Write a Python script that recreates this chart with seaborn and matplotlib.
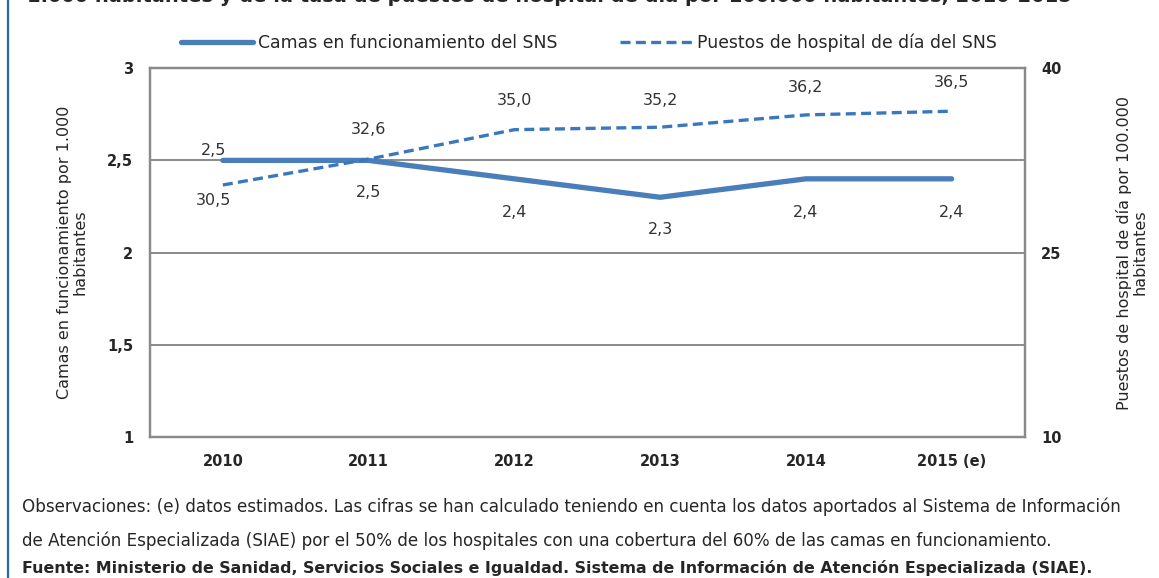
import numpy as np
import pandas as pd
import seaborn as sns
import matplotlib.pyplot as plt
from matplotlib.lines import Line2D

years = ["2010", "2011", "2012", "2013", "2014", "2015 (e)"]
camas = [2.5, 2.5, 2.4, 2.3, 2.4, 2.4]
puestos = [30.5, 32.6, 35.0, 35.2, 36.2, 36.5]

camas_labels = ["2,5", "2,5", "2,4", "2,3", "2,4", "2,4"]
puestos_labels = ["30,5", "32,6", "35,0", "35,2", "36,2", "36,5"]

sns.set_theme(style="white")
plt.rcParams["font.family"] = ["DejaVu Sans"]

blue = "#4a7ebb"
blue2 = "#3a78bd"
grid_c = "#8a8a8a"

df = pd.DataFrame({"pos": np.arange(len(years)), "camas": camas, "puestos": puestos})

fig = plt.figure(figsize=(11.59, 5.78), dpi=100)
ax = fig.add_axes([0.1294, 0.244, 0.7546, 0.638])
ax2 = ax.twinx()

sns.lineplot(data=df, x="pos", y="camas", ax=ax, color=blue, linewidth=3.8,
             solid_capstyle="round")
sns.lineplot(data=df, x="pos", y="puestos", ax=ax2, color=blue2, linewidth=2.4,
             linestyle=(0, (3, 1.6)))

ax.set_xlim(-0.5, len(years) - 0.5)
ax.set_ylim(1, 3)
ax.set_yticks([1, 1.5, 2, 2.5, 3])
ax.set_yticklabels(["1", "1,5", "2", "2,5", "3"])
ax2.set_ylim(10, 40)
ax2.set_yticks([10, 25, 40])
ax2.set_yticklabels(["10", "25", "40"])
ax.set_xticks(range(len(years)))
ax.set_xticklabels(years)

for a in (ax, ax2):
    a.tick_params(length=0, labelsize=10.5, pad=12)
    for lab in a.get_yticklabels() + a.get_xticklabels():
        lab.set_fontweight("bold")
    for s in a.spines.values():
        s.set_color(grid_c)
        s.set_linewidth(1.6)

for g in [1.5, 2, 2.5]:
    ax.axhline(g, color=grid_c, linewidth=1.4, zorder=0)

ax.set_xlabel("")
ax.set_ylabel("Camas en funcionamiento por 1.000\nhabitantes", fontsize=11.5, labelpad=14,
              linespacing=1.05)
ax2.set_ylabel("Puestos de hospital de día por 100.000\nhabitantes", fontsize=11.5,
               labelpad=39, linespacing=1.05, rotation=90)

# data labels
camas_off = [7, -23, -24, -23, -24, -24]
for i, (v, t) in enumerate(zip(camas, camas_labels)):
    ax.annotate(t, (i, v), xytext=(-7 if i == 0 else 0, camas_off[i]), textcoords="offset points",
                ha="center", va="center", fontsize=11.5, color="#333333")
puestos_off = [-11, 21, 21, 19.5, 20, 21]
for i, (v, t) in enumerate(zip(puestos, puestos_labels)):
    ax2.annotate(t, (i, v), xytext=(-7 if i == 0 else 0, puestos_off[i]), textcoords="offset points",
                 ha="center", va="center", fontsize=11.5, color="#333333")

handles = [Line2D([], [], color=blue, linewidth=3.8),
           Line2D([], [], color=blue2, linewidth=2.4, linestyle=(0, (3, 1.6)))]
fig.legend(handles, ["Camas en funcionamiento del SNS", "Puestos de hospital de día del SNS"],
           loc="center", bbox_to_anchor=(0.508, 0.926), ncol=2, frameon=False,
           fontsize=12.4, handlelength=4.2, handletextpad=0.3, columnspacing=3.6)

# cut-off title at the top
fig.text(0.0235, 1 - 2.5 / 578,
         "1.000 habitantes y de la tasa de puestos de hospital de día por 100.000 habitantes, 2010-2015",
         fontsize=14, fontweight="bold", va="baseline", ha="left")

fig.add_artist(Line2D([0.0065, 0.0065], [0, 1], transform=fig.transFigure,
                      color="#1f6aa5", linewidth=1.6))

notes = [
    ("Observaciones: (e) datos estimados. Las cifras se han calculado teniendo en cuenta los datos aportados al Sistema de Información", "normal", 12.1, 0.123),
    ("de Atención Especializada (SIAE) por el 50% de los hospitales con una cobertura del 60% de las camas en funcionamiento.", "normal", 12.1, 0.064),
    ("Fuente: Ministerio de Sanidad, Servicios Sociales e Igualdad. Sistema de Información de Atención Especializada (SIAE).", "bold", 11.4, 0.017),
]
for txt, w, fs, y in notes:
    fig.text(0.019, y, txt, fontsize=fs, fontweight=w, va="center", ha="left")

fig.savefig("out.png", dpi=100)
